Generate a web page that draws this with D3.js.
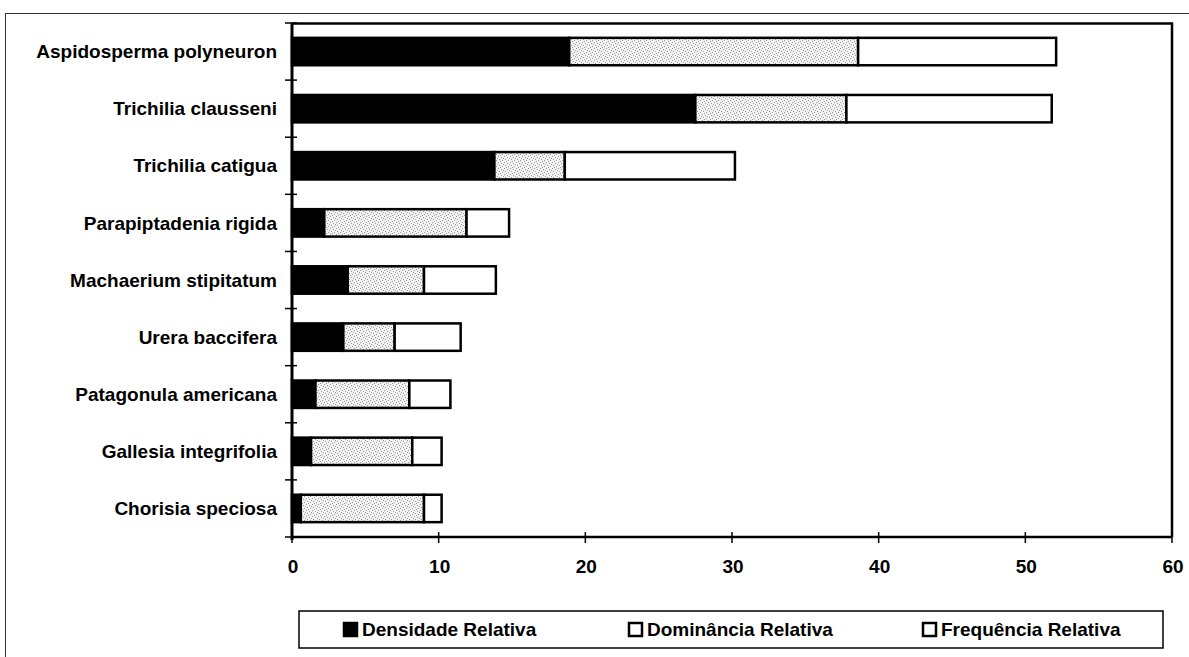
<!DOCTYPE html>
<html>
<head>
<meta charset="utf-8">
<script src="https://cdn.jsdelivr.net/npm/d3@7"></script>
<style>
  body { margin: 0; background: #fff; }
  text { font-family: "Liberation Sans", Arial, sans-serif; fill: #000; }
</style>
</head>
<body>
<div id="chart"></div>
<script>
// species, top to bottom
const species = [
    "Aspidosperma polyneuron", "Trichilia clausseni", "Trichilia catigua",
    "Parapiptadenia rigida", "Machaerium stipitatum", "Urera baccifera",
    "Patagonula americana", "Gallesia integrifolia", "Chorisia speciosa"
];
const densidade  = [18.9, 27.5, 13.8, 2.2, 3.8, 3.5, 1.6, 1.3, 0.6];
const dominancia = [19.7, 10.3, 4.8, 9.7, 5.2, 3.5, 6.4, 6.9, 8.4];
const frequencia = [13.5, 14.0, 11.6, 2.9, 4.9, 4.5, 2.8, 2.0, 1.2];
const xTicks = [0, 10, 20, 30, 40, 50, 60];
const seriesNames = ["Densidade Relativa", "Dominância Relativa", "Frequência Relativa"];

const width = 1189, height = 657;
const svg = d3.select("#chart").append("svg")
    .attr("width", width).attr("height", height);

// stipple pattern for Dominância
const defs = svg.append("defs");
const pat = defs.append("pattern")
    .attr("id", "stip").attr("patternUnits", "userSpaceOnUse")
    .attr("width", 6).attr("height", 6);
pat.append("rect").attr("width", 6).attr("height", 6).attr("fill", "#f2f2f2");
[[0, 0], [3, 1], [1, 3], [4, 4], [5, 2], [2, 5]].forEach(p => {
    pat.append("rect").attr("x", p[0]).attr("y", p[1])
        .attr("width", 1).attr("height", 1).attr("fill", "#9a9a9a");
});

// outer frame
svg.append("rect")
    .attr("x", 5.5).attr("y", 13.5).attr("width", 1200).attr("height", 700)
    .attr("fill", "none").attr("stroke", "#333").attr("stroke-width", 1);

const x = d3.scaleLinear().domain([0, 60]).range([292, 1172]);
const y = d3.scaleBand().domain(species).range([23, 537])
    .paddingInner(0.52).paddingOuter(0.26);

// plot frame (top and right)
svg.append("path")
    .attr("d", `M${x(0)},23.5 H${x(60)} V${537}`)
    .attr("fill", "none").attr("stroke", "#000").attr("stroke-width", 2.5);

// stacked data
const rows = species.map((s, i) => ({
    name: s, values: [densidade[i], dominancia[i], frequencia[i]]
}));
const stack = d3.stack().keys([0, 1, 2]).value((d, k) => d.values[k]);
const layers = stack(rows);
const fills = ["#000", "url(#stip)", "#fff"];

svg.selectAll("g.layer").data(layers).enter().append("g")
    .attr("class", "layer")
    .attr("fill", (d, i) => fills[i])
    .selectAll("rect").data(d => d).enter().append("rect")
    .attr("x", d => x(d[0]))
    .attr("y", d => y(d.data.name))
    .attr("width", d => x(d[1]) - x(d[0]))
    .attr("height", y.bandwidth())
    .attr("stroke", "#000").attr("stroke-width", 2.5);

// x axis
const step = y.step();
svg.append("line")
    .attr("x1", x(0)).attr("x2", x(60)).attr("y1", 537).attr("y2", 537)
    .attr("stroke", "#000").attr("stroke-width", 2.5);
svg.selectAll(".xtick").data(xTicks).enter().append("line")
    .attr("x1", d => x(d)).attr("x2", d => x(d))
    .attr("y1", 532).attr("y2", 543)
    .attr("stroke", "#000").attr("stroke-width", 1.5);
svg.selectAll(".xlab").data(xTicks).enter().append("text")
    .attr("x", d => x(d) + 1).attr("y", 573)
    .attr("text-anchor", "middle")
    .style("font-size", "19px").style("font-weight", "bold")
    .text(d => d);

// y axis with cross ticks at band boundaries
svg.append("line")
    .attr("x1", x(0)).attr("x2", x(0)).attr("y1", 23).attr("y2", 540)
    .attr("stroke", "#000").attr("stroke-width", 3);
svg.selectAll(".ytick").data(d3.range(species.length + 1)).enter().append("line")
    .attr("x1", x(0) - 7).attr("x2", x(0) + 5)
    .attr("y1", d => 23 + d * step).attr("y2", d => 23 + d * step)
    .attr("stroke", "#000").attr("stroke-width", 1.5);
svg.selectAll(".ylab").data(species).enter().append("text")
    .attr("x", 277)
    .attr("y", d => y(d) + y.bandwidth() / 2)
    .attr("dy", "0.35em")
    .attr("text-anchor", "end")
    .style("font-size", "19px").style("font-weight", "bold")
    .text(d => d);

// legend
svg.append("rect")
    .attr("x", 299).attr("y", 611).attr("width", 864).attr("height", 37)
    .attr("fill", "#fff").attr("stroke", "#000").attr("stroke-width", 1.5);
const legX = [343, 628, 922];
const leg = svg.selectAll(".leg").data(seriesNames).enter().append("g")
    .attr("transform", (d, i) => `translate(${legX[i]},629)`);
leg.append("rect")
    .attr("x", 1).attr("y", -6).attr("width", 13).attr("height", 13)
    .attr("fill", (d, i) => i === 0 ? "#000" : "#fff")
    .attr("stroke", "#000").attr("stroke-width", 2.5);
leg.append("text")
    .attr("x", 19).attr("y", 0).attr("dy", "0.35em")
    .style("font-size", "19px").style("font-weight", "bold")
    .text(d => d);
</script>
</body>
</html>
